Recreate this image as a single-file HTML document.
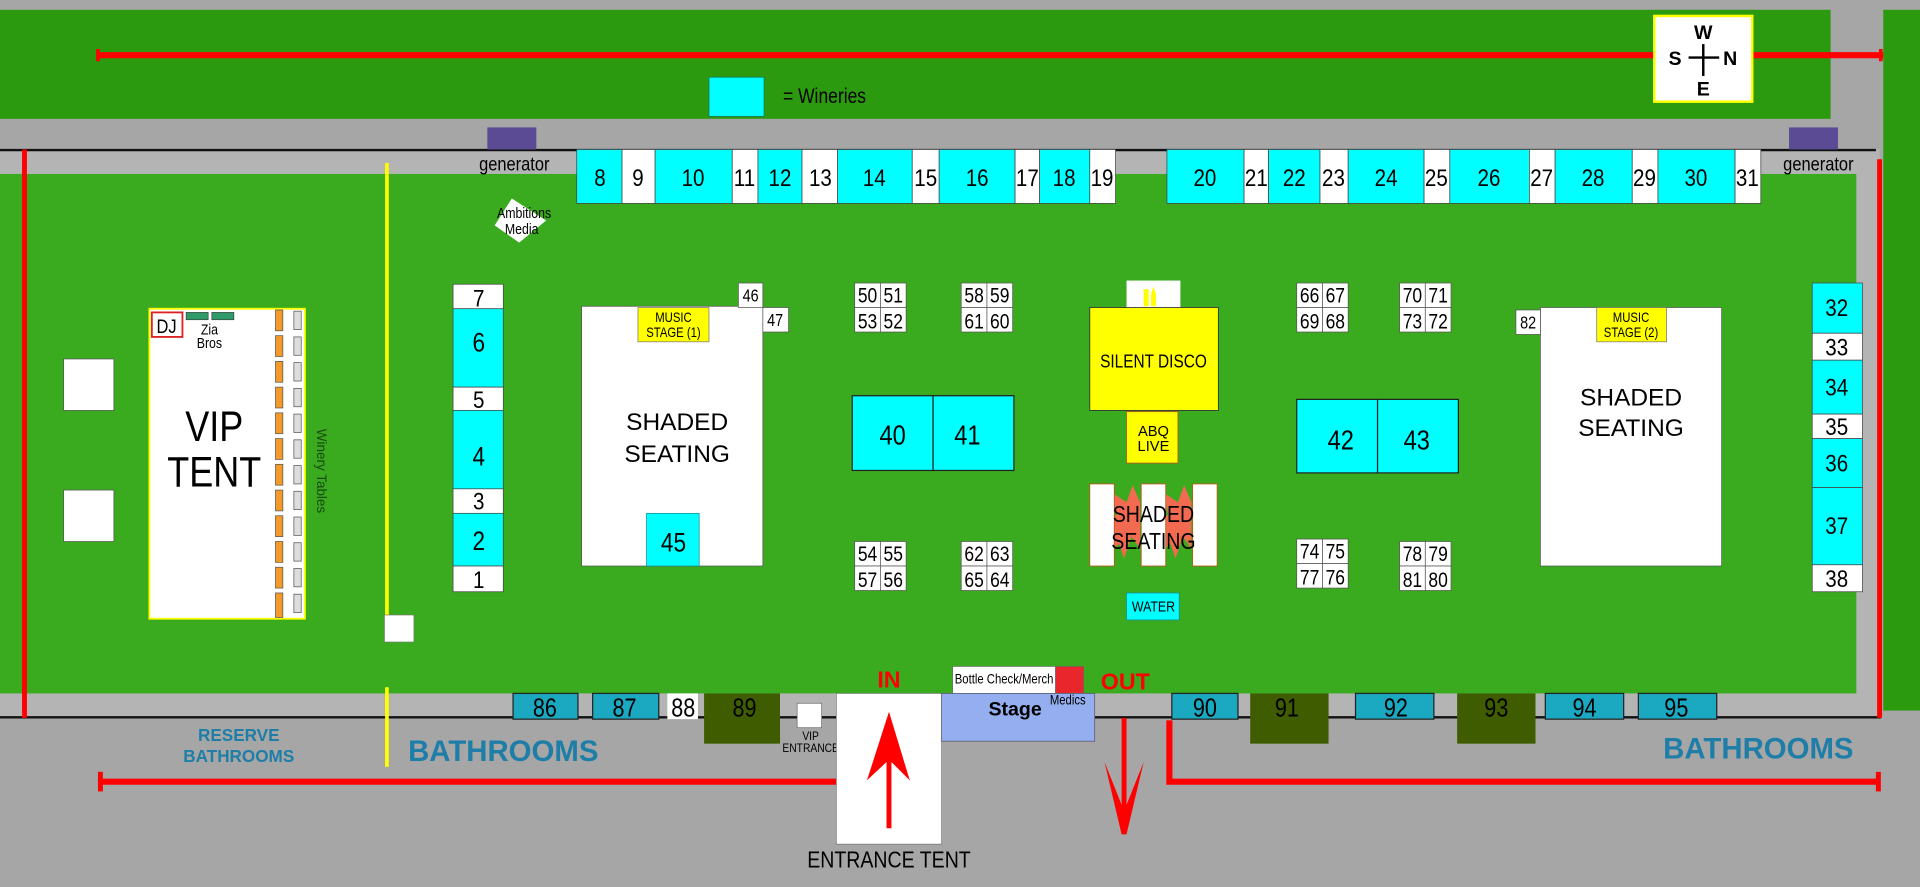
<!DOCTYPE html>
<html><head><meta charset="utf-8"><style>
html,body{margin:0;padding:0;background:#a6a6a6;}
svg{display:block;}
text{font-family:"Liberation Sans",sans-serif;}
text.n{transform-box:fill-box;transform-origin:center;transform:scaleX(0.84);}
</style></head><body>
<svg width="1920" height="887" viewBox="0 0 1568 724" preserveAspectRatio="none" xmlns="http://www.w3.org/2000/svg">
<rect x="0" y="0" width="1568" height="724" fill="#a6a6a6"/>
<rect x="0" y="8" width="1495" height="89" fill="#2b9a0e"/>
<rect x="1538" y="8" width="30" height="572" fill="#2b9a0e"/>
<rect x="0" y="122" width="1535" height="464" fill="#b4b4b4"/>
<rect x="0" y="142" width="1516" height="424" fill="#3aaa1e"/>
<line x1="0" y1="122.5" x2="1532" y2="122.5" stroke="#111" stroke-width="2"/>
<line x1="0" y1="585.5" x2="1536" y2="585.5" stroke="#111" stroke-width="2"/>
<line x1="80" y1="45" x2="1538" y2="45" stroke="#f00" stroke-width="5"/>
<line x1="80" y1="40" x2="80" y2="50" stroke="#f00" stroke-width="3"/>
<line x1="1536" y1="40" x2="1536" y2="50" stroke="#f00" stroke-width="3"/>
<line x1="20" y1="122" x2="20" y2="586" stroke="#f00" stroke-width="4"/>
<line x1="1535" y1="130" x2="1535" y2="586" stroke="#f00" stroke-width="4"/>
<line x1="80" y1="638" x2="683" y2="638" stroke="#f00" stroke-width="5"/>
<line x1="82" y1="630" x2="82" y2="646" stroke="#f00" stroke-width="4"/>
<polyline points="955,588 955,638 1535,638" fill="none" stroke="#f00" stroke-width="5"/>
<line x1="1534" y1="630" x2="1534" y2="646" stroke="#f00" stroke-width="4"/>
<line x1="316" y1="133" x2="316" y2="502" stroke="#ff0" stroke-width="3"/>
<line x1="316" y1="561" x2="316" y2="626" stroke="#ff0" stroke-width="3"/>
<rect x="314" y="502" width="24" height="22" fill="#fff" stroke="#777" stroke-width="0.5"/>
<rect x="1351" y="13" width="80" height="70" fill="#fff" stroke="#ff0" stroke-width="2"/>
<line x1="1391" y1="36" x2="1391" y2="62" stroke="#000" stroke-width="2"/>
<line x1="1379" y1="47" x2="1404" y2="47" stroke="#000" stroke-width="2"/>
<g font-weight="bold" font-size="16" text-anchor="middle">
<text x="1391" y="32">W</text>
<text x="1368" y="53">S</text>
<text x="1413" y="53">N</text>
<text x="1391" y="78">E</text>
</g>
<rect x="579" y="63" width="45" height="32" fill="#0ff" stroke="#1a7a5a" stroke-width="0.7"/>
<text class="n" x="633" y="84" font-size="17">= Wineries</text>
<rect x="398" y="104" width="40" height="18" fill="#5b4a94"/>
<rect x="1461" y="104" width="40" height="18" fill="#5b4a94"/>
<text class="n" x="420" y="139" font-size="16" text-anchor="middle">generator</text>
<text class="n" x="1485" y="139" font-size="16" text-anchor="middle">generator</text>
<g stroke="#444" stroke-width="0.6" font-size="20" text-anchor="middle">
<rect x="471" y="122" width="37" height="44" fill="#0ff"/><text class="n" x="490" y="152" stroke="none">8</text>
<rect x="508" y="122" width="27" height="44" fill="#fff"/><text class="n" x="521" y="152" stroke="none">9</text>
<rect x="535" y="122" width="63" height="44" fill="#0ff"/><text class="n" x="566" y="152" stroke="none">10</text>
<rect x="598" y="122" width="21" height="44" fill="#fff"/><text class="n" x="608" y="152" stroke="none">11</text>
<rect x="619" y="122" width="36" height="44" fill="#0ff"/><text class="n" x="637" y="152" stroke="none">12</text>
<rect x="655" y="122" width="29" height="44" fill="#fff"/><text class="n" x="670" y="152" stroke="none">13</text>
<rect x="684" y="122" width="61" height="44" fill="#0ff"/><text class="n" x="714" y="152" stroke="none">14</text>
<rect x="745" y="122" width="22" height="44" fill="#fff"/><text class="n" x="756" y="152" stroke="none">15</text>
<rect x="767" y="122" width="62" height="44" fill="#0ff"/><text class="n" x="798" y="152" stroke="none">16</text>
<rect x="829" y="122" width="20" height="44" fill="#fff"/><text class="n" x="839" y="152" stroke="none">17</text>
<rect x="849" y="122" width="41" height="44" fill="#0ff"/><text class="n" x="869" y="152" stroke="none">18</text>
<rect x="890" y="122" width="21" height="44" fill="#fff"/><text class="n" x="900" y="152" stroke="none">19</text>
<rect x="953" y="122" width="63" height="44" fill="#0ff"/><text class="n" x="984" y="152" stroke="none">20</text>
<rect x="1016" y="122" width="20" height="44" fill="#fff"/><text class="n" x="1026" y="152" stroke="none">21</text>
<rect x="1036" y="122" width="42" height="44" fill="#0ff"/><text class="n" x="1057" y="152" stroke="none">22</text>
<rect x="1078" y="122" width="23" height="44" fill="#fff"/><text class="n" x="1089" y="152" stroke="none">23</text>
<rect x="1101" y="122" width="62" height="44" fill="#0ff"/><text class="n" x="1132" y="152" stroke="none">24</text>
<rect x="1163" y="122" width="21" height="44" fill="#fff"/><text class="n" x="1173" y="152" stroke="none">25</text>
<rect x="1184" y="122" width="65" height="44" fill="#0ff"/><text class="n" x="1216" y="152" stroke="none">26</text>
<rect x="1249" y="122" width="21" height="44" fill="#fff"/><text class="n" x="1259" y="152" stroke="none">27</text>
<rect x="1270" y="122" width="63" height="44" fill="#0ff"/><text class="n" x="1301" y="152" stroke="none">28</text>
<rect x="1333" y="122" width="21" height="44" fill="#fff"/><text class="n" x="1343" y="152" stroke="none">29</text>
<rect x="1354" y="122" width="63" height="44" fill="#0ff"/><text class="n" x="1385" y="152" stroke="none">30</text>
<rect x="1417" y="122" width="21" height="44" fill="#fff"/><text class="n" x="1427" y="152" stroke="none">31</text>
<rect x="370" y="232" width="41" height="20" fill="#fff"/><text class="n" x="391" y="250" stroke="none">7</text>
<rect x="370" y="252" width="41" height="64" fill="#0ff"/><text class="n" x="391" y="287" stroke="none" font-size="22">6</text>
<rect x="370" y="316" width="41" height="19" fill="#fff"/><text class="n" x="391" y="333" stroke="none">5</text>
<rect x="370" y="335" width="41" height="64" fill="#0ff"/><text class="n" x="391" y="380" stroke="none" font-size="22">4</text>
<rect x="370" y="399" width="41" height="20" fill="#fff"/><text class="n" x="391" y="416" stroke="none">3</text>
<rect x="370" y="419" width="41" height="43" fill="#0ff"/><text class="n" x="391" y="449" stroke="none" font-size="22">2</text>
<rect x="370" y="462" width="41" height="21" fill="#fff"/><text class="n" x="391" y="480" stroke="none">1</text>
<rect x="1480" y="231" width="41" height="41" fill="#0ff"/><text class="n" x="1500" y="258" stroke="none">32</text>
<rect x="1480" y="272" width="41" height="22" fill="#fff"/><text class="n" x="1500" y="290" stroke="none">33</text>
<rect x="1480" y="294" width="41" height="44" fill="#0ff"/><text class="n" x="1500" y="323" stroke="none">34</text>
<rect x="1480" y="338" width="41" height="20" fill="#fff"/><text class="n" x="1500" y="355" stroke="none">35</text>
<rect x="1480" y="358" width="41" height="40" fill="#0ff"/><text class="n" x="1500" y="385" stroke="none">36</text>
<rect x="1480" y="398" width="41" height="63" fill="#0ff"/><text class="n" x="1500" y="436" stroke="none">37</text>
<rect x="1480" y="461" width="41" height="22" fill="#fff"/><text class="n" x="1500" y="479" stroke="none">38</text>
</g>
<polygon points="418,162 446,180 424,198 404,184" fill="#fff"/>
<text class="n" x="428" y="178" font-size="12" text-anchor="middle">Ambitions</text>
<text class="n" x="426" y="191" font-size="12" text-anchor="middle">Media</text>
<rect x="52" y="293" width="41" height="42" fill="#fff" stroke="#555" stroke-width="0.6"/>
<rect x="52" y="400" width="41" height="42" fill="#fff" stroke="#555" stroke-width="0.6"/>
<rect x="122" y="252" width="127" height="253" fill="#fff" stroke="#ff0" stroke-width="1.5"/>
<rect x="124" y="255" width="25" height="20" fill="#fff" stroke="#d22" stroke-width="1.5"/>
<text class="n" x="136" y="272" font-size="16" text-anchor="middle">DJ</text>
<rect x="152" y="255" width="18" height="6" fill="#2f9a6a" stroke="#333" stroke-width="0.5"/>
<rect x="173" y="255" width="18" height="6" fill="#2f9a6a" stroke="#333" stroke-width="0.5"/>
<text class="n" x="171" y="273" font-size="12" text-anchor="middle">Zia</text>
<text class="n" x="171" y="284" font-size="12" text-anchor="middle">Bros</text>
<text class="n" x="175" y="360" font-size="35" text-anchor="middle">VIP</text>
<text class="n" x="175" y="397" font-size="35" text-anchor="middle">TENT</text>
<g stroke="#555" stroke-width="0.6">
<rect x="225" y="253" width="6" height="17" fill="#f39a2a"/><rect x="240" y="254" width="6" height="15" fill="#ddd"/>
<rect x="225" y="274" width="6" height="17" fill="#f39a2a"/><rect x="240" y="275" width="6" height="15" fill="#ddd"/>
<rect x="225" y="295" width="6" height="17" fill="#f39a2a"/><rect x="240" y="296" width="6" height="15" fill="#ddd"/>
<rect x="225" y="316" width="6" height="17" fill="#f39a2a"/><rect x="240" y="317" width="6" height="15" fill="#ddd"/>
<rect x="225" y="337" width="6" height="17" fill="#f39a2a"/><rect x="240" y="338" width="6" height="15" fill="#ddd"/>
<rect x="225" y="358" width="6" height="17" fill="#f39a2a"/><rect x="240" y="359" width="6" height="15" fill="#ddd"/>
<rect x="225" y="379" width="6" height="17" fill="#f39a2a"/><rect x="240" y="380" width="6" height="15" fill="#ddd"/>
<rect x="225" y="400" width="6" height="17" fill="#f39a2a"/><rect x="240" y="401" width="6" height="15" fill="#ddd"/>
<rect x="225" y="421" width="6" height="17" fill="#f39a2a"/><rect x="240" y="422" width="6" height="15" fill="#ddd"/>
<rect x="225" y="442" width="6" height="17" fill="#f39a2a"/><rect x="240" y="443" width="6" height="15" fill="#ddd"/>
<rect x="225" y="463" width="6" height="17" fill="#f39a2a"/><rect x="240" y="464" width="6" height="15" fill="#ddd"/>
<rect x="225" y="484" width="6" height="20" fill="#f39a2a"/><rect x="240" y="485" width="6" height="15" fill="#ddd"/>
</g>
<text transform="translate(259,350) rotate(90)" font-size="11" fill="#1a4a10">Winery Tables</text>
<rect x="475" y="250" width="148" height="212" fill="#fff" stroke="#555" stroke-width="0.6"/>
<rect x="521" y="251" width="58" height="28" fill="#ff0" stroke="#777" stroke-width="0.6"/>
<text class="n" x="550" y="263" font-size="11" text-anchor="middle">MUSIC</text>
<text class="n" x="550" y="275" font-size="11" text-anchor="middle">STAGE (1)</text>
<text x="553" y="351" font-size="20" text-anchor="middle">SHADED</text>
<text x="553" y="377" font-size="20" text-anchor="middle">SEATING</text>
<rect x="528" y="419" width="43" height="43" fill="#0ff" stroke="#1a8a9a" stroke-width="0.6"/>
<text class="n" x="550" y="450" font-size="22" text-anchor="middle">45</text>
<rect x="1258" y="251" width="148" height="211" fill="#fff" stroke="#555" stroke-width="0.6"/>
<rect x="1304" y="251" width="57" height="28" fill="#ff0" stroke="#777" stroke-width="0.6"/>
<text class="n" x="1332" y="263" font-size="11" text-anchor="middle">MUSIC</text>
<text class="n" x="1332" y="275" font-size="11" text-anchor="middle">STAGE (2)</text>
<text x="1332" y="331" font-size="20" text-anchor="middle">SHADED</text>
<text x="1332" y="356" font-size="20" text-anchor="middle">SEATING</text>
<g stroke="#555" stroke-width="0.6" fill="#fff" font-size="14" text-anchor="middle">
<rect x="603" y="231" width="20" height="20"/><text class="n" x="613" y="246" stroke="none" fill="#000">46</text>
<rect x="623" y="251" width="21" height="20"/><text class="n" x="633" y="266" stroke="none" fill="#000">47</text>
<rect x="1238" y="253" width="20" height="20"/><text class="n" x="1248" y="268" stroke="none" fill="#000">82</text>
</g>
<g stroke="#555" stroke-width="0.6" font-size="17" text-anchor="middle">
<g transform="translate(698,231)"><rect width="21" height="20" fill="#fff"/><rect x="21" width="21" height="20" fill="#fff"/><rect y="20" width="21" height="20" fill="#fff"/><rect x="21" y="20" width="21" height="20" fill="#fff"/><text class="n" x="10.5" y="16" stroke="none">50</text><text class="n" x="31.5" y="16" stroke="none">51</text><text class="n" x="10.5" y="37" stroke="none">53</text><text class="n" x="31.5" y="37" stroke="none">52</text></g>
<g transform="translate(785,231)"><rect width="21" height="20" fill="#fff"/><rect x="21" width="21" height="20" fill="#fff"/><rect y="20" width="21" height="20" fill="#fff"/><rect x="21" y="20" width="21" height="20" fill="#fff"/><text class="n" x="10.5" y="16" stroke="none">58</text><text class="n" x="31.5" y="16" stroke="none">59</text><text class="n" x="10.5" y="37" stroke="none">61</text><text class="n" x="31.5" y="37" stroke="none">60</text></g>
<g transform="translate(1059,231)"><rect width="21" height="20" fill="#fff"/><rect x="21" width="21" height="20" fill="#fff"/><rect y="20" width="21" height="20" fill="#fff"/><rect x="21" y="20" width="21" height="20" fill="#fff"/><text class="n" x="10.5" y="16" stroke="none">66</text><text class="n" x="31.5" y="16" stroke="none">67</text><text class="n" x="10.5" y="37" stroke="none">69</text><text class="n" x="31.5" y="37" stroke="none">68</text></g>
<g transform="translate(1143,231)"><rect width="21" height="20" fill="#fff"/><rect x="21" width="21" height="20" fill="#fff"/><rect y="20" width="21" height="20" fill="#fff"/><rect x="21" y="20" width="21" height="20" fill="#fff"/><text class="n" x="10.5" y="16" stroke="none">70</text><text class="n" x="31.5" y="16" stroke="none">71</text><text class="n" x="10.5" y="37" stroke="none">73</text><text class="n" x="31.5" y="37" stroke="none">72</text></g>
<g transform="translate(698,442)"><rect width="21" height="20" fill="#fff"/><rect x="21" width="21" height="20" fill="#fff"/><rect y="20" width="21" height="20" fill="#fff"/><rect x="21" y="20" width="21" height="20" fill="#fff"/><text class="n" x="10.5" y="16" stroke="none">54</text><text class="n" x="31.5" y="16" stroke="none">55</text><text class="n" x="10.5" y="37" stroke="none">57</text><text class="n" x="31.5" y="37" stroke="none">56</text></g>
<g transform="translate(785,442)"><rect width="21" height="20" fill="#fff"/><rect x="21" width="21" height="20" fill="#fff"/><rect y="20" width="21" height="20" fill="#fff"/><rect x="21" y="20" width="21" height="20" fill="#fff"/><text class="n" x="10.5" y="16" stroke="none">62</text><text class="n" x="31.5" y="16" stroke="none">63</text><text class="n" x="10.5" y="37" stroke="none">65</text><text class="n" x="31.5" y="37" stroke="none">64</text></g>
<g transform="translate(1059,440)"><rect width="21" height="20" fill="#fff"/><rect x="21" width="21" height="20" fill="#fff"/><rect y="20" width="21" height="20" fill="#fff"/><rect x="21" y="20" width="21" height="20" fill="#fff"/><text class="n" x="10.5" y="16" stroke="none">74</text><text class="n" x="31.5" y="16" stroke="none">75</text><text class="n" x="10.5" y="37" stroke="none">77</text><text class="n" x="31.5" y="37" stroke="none">76</text></g>
<g transform="translate(1143,442)"><rect width="21" height="20" fill="#fff"/><rect x="21" width="21" height="20" fill="#fff"/><rect y="20" width="21" height="20" fill="#fff"/><rect x="21" y="20" width="21" height="20" fill="#fff"/><text class="n" x="10.5" y="16" stroke="none">78</text><text class="n" x="31.5" y="16" stroke="none">79</text><text class="n" x="10.5" y="37" stroke="none">81</text><text class="n" x="31.5" y="37" stroke="none">80</text></g>
</g>
<g stroke="#222" stroke-width="1" font-size="23" text-anchor="middle">
<rect x="696" y="323" width="66" height="61" fill="#0ff"/><rect x="762" y="323" width="66" height="61" fill="#0ff"/>
<text class="n" x="729" y="363" stroke="none">40</text><text class="n" x="790" y="363" stroke="none">41</text>
<rect x="1059" y="326" width="66" height="60" fill="#0ff"/><rect x="1125" y="326" width="66" height="60" fill="#0ff"/>
<text class="n" x="1095" y="367" stroke="none">42</text><text class="n" x="1157" y="367" stroke="none">43</text>
</g>
<rect x="920" y="229" width="44" height="22" fill="#fff"/>
<rect x="934" y="236" width="4" height="14" fill="#ff0"/>
<polygon points="940,250 944,250 944,240 942,234 940,240" fill="#ff0"/>
<rect x="890" y="251" width="105" height="84" fill="#ff0" stroke="#333" stroke-width="0.7"/>
<text class="n" x="942" y="300" font-size="15" text-anchor="middle">SILENT DISCO</text>
<rect x="920" y="336" width="42" height="42" fill="#ff0" stroke="#b85a1a" stroke-width="0.7"/>
<text x="942" y="356" font-size="12" text-anchor="middle">ABQ</text>
<text x="942" y="368" font-size="12" text-anchor="middle">LIVE</text>
<polygon points="908,402 920,410 925,396 931,410 931,448 924,438 918,456 914,444 906,450 910,436 902,428 912,420" fill="#f26a50"/>
<polygon points="950,402 962,410 967,396 973,410 973,448 966,438 960,456 956,444 948,450 952,436 944,428 954,420" fill="#f26a50"/>
<g fill="#fff" stroke="#b85a1a" stroke-width="0.7">
<rect x="890" y="395" width="20" height="67"/><rect x="932" y="395" width="20" height="67"/><rect x="974" y="395" width="20" height="67"/>
</g>
<text class="n" x="942" y="426" font-size="19" text-anchor="middle">SHADED</text>
<text class="n" x="942" y="448" font-size="19" text-anchor="middle">SEATING</text>
<rect x="920" y="484" width="43" height="22" fill="#0ff" stroke="#1a8a9a" stroke-width="0.6"/>
<text class="n" x="942" y="499" font-size="12" text-anchor="middle">WATER</text>
<g stroke="#222" stroke-width="1" font-size="21" text-anchor="middle">
<rect x="419" y="566" width="53" height="21" fill="#1aa9c0"/><text class="n" x="445" y="585" stroke="none">86</text>
<rect x="484" y="566" width="54" height="21" fill="#1aa9c0"/><text class="n" x="510" y="585" stroke="none">87</text>
<rect x="545" y="566" width="25" height="21" fill="#fff" stroke="none"/><text class="n" x="558" y="585" stroke="none">88</text>
<rect x="575" y="566" width="62" height="41" fill="#3f5d00" stroke="none"/><text class="n" x="608" y="585" stroke="none">89</text>
<rect x="957" y="566" width="54" height="21" fill="#1aa9c0"/><text class="n" x="984" y="585" stroke="none">90</text>
<rect x="1021" y="566" width="64" height="41" fill="#3f5d00" stroke="none"/><text class="n" x="1051" y="585" stroke="none">91</text>
<rect x="1107" y="566" width="64" height="21" fill="#1aa9c0"/><text class="n" x="1140" y="585" stroke="none">92</text>
<rect x="1190" y="566" width="64" height="41" fill="#3f5d00" stroke="none"/><text class="n" x="1222" y="585" stroke="none">93</text>
<rect x="1262" y="566" width="64" height="21" fill="#1aa9c0"/><text class="n" x="1294" y="585" stroke="none">94</text>
<rect x="1338" y="566" width="64" height="21" fill="#1aa9c0"/><text class="n" x="1369" y="585" stroke="none">95</text>
</g>
<rect x="651" y="574" width="20" height="20" fill="#fff" stroke="#555" stroke-width="0.5"/>
<text class="n" x="662" y="604" font-size="10" text-anchor="middle">VIP</text>
<text class="n" x="662" y="614" font-size="10" text-anchor="middle">ENTRANCE</text>
<rect x="683" y="566" width="86" height="123" fill="#fff" stroke="#666" stroke-width="0.5"/>
<polygon points="726,581 743,637 728,622 728,676 724,676 724,622 708,637" fill="#f00"/>
<text x="726" y="561" font-size="19" font-weight="bold" fill="#f00" text-anchor="middle">IN</text>
<text class="n" x="726" y="708" font-size="19" text-anchor="middle">ENTRANCE TENT</text>
<rect x="778" y="544" width="84" height="22" fill="#fff" stroke="#666" stroke-width="0.5"/>
<text class="n" x="820" y="558" font-size="11" text-anchor="middle">Bottle Check/Merch</text>
<rect x="862" y="544" width="23" height="22" fill="#e8262c" stroke="#666" stroke-width="0.5"/>
<rect x="769" y="566" width="125" height="39" fill="#94aef0" stroke="#556" stroke-width="0.6"/>
<text x="829" y="584" font-size="16" font-weight="bold" text-anchor="middle">Stage</text>
<text class="n" x="872" y="575" font-size="11" text-anchor="middle">Medics</text>
<text x="919" y="563" font-size="19" font-weight="bold" fill="#f00" text-anchor="middle">OUT</text>
<polygon points="916,586 920,586 920,657 934,622 920,681 916,681 902,622 916,657" fill="#f00"/>
<g fill="#1e7ea8" font-weight="bold">
<text x="411" y="621" font-size="24" text-anchor="middle">BATHROOMS</text>
<text x="1436" y="619" font-size="24" text-anchor="middle">BATHROOMS</text>
<text x="195" y="605" font-size="14" text-anchor="middle">RESERVE</text>
<text x="195" y="622" font-size="14" text-anchor="middle">BATHROOMS</text>
</g>
</svg>
</body></html>
